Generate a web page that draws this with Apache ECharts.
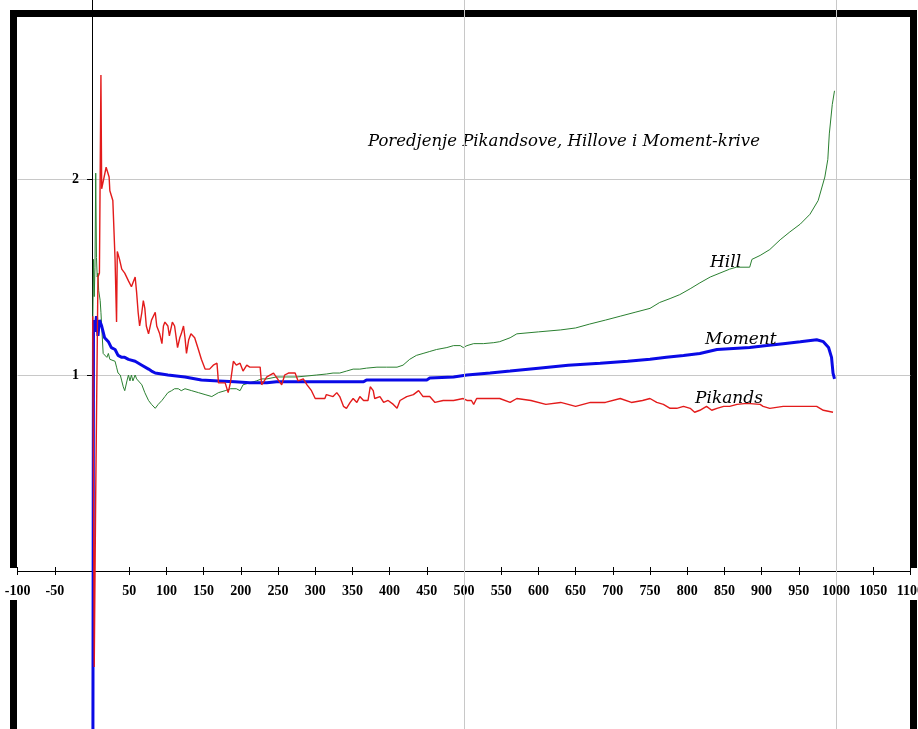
<!DOCTYPE html>
<html><head><meta charset="utf-8">
<script src="https://cdn.jsdelivr.net/npm/echarts@6/dist/echarts.min.js"></script>
<style>html,body{margin:0;padding:0;background:#fff}#c{width:918px;height:729px}</style>
</head><body><div id="c"></div><script>
// k (number of order statistics) vs estimate
const hillData = [[1,1.25],[2,1.59],[3,1.40],[4,1.55],[5,2.03],[6,1.60],[7,1.50],[8,1.52],[9,1.43],[11,1.38],[12,1.32],[13,1.25],[15,1.11],[17,1.12],[20,1.09],[22,1.11],[24,1.08],[26,1.08],[31,1.07],[33,1.04],[35,1.01],[38,1.00],[40,0.97],[42,0.94],[44,0.92],[47,0.97],[49,1.00],[51,0.97],[53,1.00],[55,0.97],[58,1.00],[60,0.98],[62,0.97],[67,0.95],[71,0.91],[76,0.87],[80,0.85],[85,0.83],[89,0.85],[94,0.87],[98,0.89],[102,0.91],[107,0.92],[111,0.93],[116,0.93],[120,0.92],[125,0.93],[134,0.92],[143,0.91],[152,0.90],[161,0.89],[170,0.91],[179,0.92],[186,0.93],[194,0.93],[199,0.92],[203,0.95],[212,0.96],[221,0.97],[228,0.98],[235,0.98],[248,0.99],[262,0.99],[275,0.99],[289,0.995],[302,1.0],[315,1.005],[324,1.01],[333,1.01],[342,1.02],[351,1.03],[360,1.03],[369,1.035],[383,1.04],[396,1.04],[410,1.04],[418,1.05],[427,1.08],[436,1.10],[445,1.11],[454,1.12],[463,1.13],[477,1.14],[486,1.15],[495,1.15],[499,1.14],[504,1.15],[513,1.16],[526,1.16],[540,1.165],[548,1.17],[562,1.19],[571,1.21],[600,1.22],[630,1.23],[650,1.24],[669,1.26],[690,1.28],[710,1.30],[730,1.32],[750,1.34],[763,1.37],[777,1.39],[790,1.41],[804,1.44],[817,1.47],[831,1.50],[844,1.52],[857,1.54],[866,1.55],[884,1.55],[887,1.59],[898,1.61],[911,1.64],[925,1.69],[938,1.73],[952,1.77],[965,1.82],[976,1.89],[985,2.01],[989,2.10],[991,2.23],[995,2.38],[998,2.45]];

const momentData = [[1,-1.5],[2,1.28],[4,1.22],[6,1.30],[8,1.20],[10,1.28],[13,1.25],[17,1.19],[22,1.17],[26,1.14],[31,1.13],[35,1.10],[40,1.09],[44,1.09],[49,1.08],[58,1.07],[67,1.05],[76,1.03],[80,1.02],[85,1.01],[102,1.0],[125,0.99],[147,0.975],[170,0.97],[192,0.965],[212,0.96],[235,0.96],[248,0.965],[280,0.965],[324,0.965],[365,0.965],[369,0.975],[414,0.975],[450,0.975],[454,0.985],[486,0.99],[504,1.0],[535,1.01],[562,1.02],[600,1.035],[640,1.05],[683,1.06],[720,1.07],[750,1.08],[772,1.09],[795,1.10],[817,1.11],[840,1.13],[862,1.135],[884,1.14],[907,1.15],[929,1.16],[952,1.17],[974,1.18],[983,1.17],[990,1.14],[994,1.09],[996,1.01],[998,0.98]];

const pikandsData = [[1,1.3],[3,-0.49],[5,0.4],[8,1.5],[10,1.52],[12,2.53],[13,1.95],[15,1.95],[19,2.06],[23,2.01],[24,1.94],[26,1.93],[28,1.89],[31,1.59],[33,1.27],[34,1.63],[37,1.59],[40,1.54],[44,1.52],[49,1.48],[53,1.45],[58,1.50],[60,1.42],[62,1.32],[64,1.25],[67,1.32],[69,1.38],[71,1.34],[73,1.25],[76,1.21],[80,1.28],[85,1.32],[87,1.25],[91,1.21],[94,1.16],[96,1.25],[98,1.27],[102,1.25],[104,1.20],[108,1.27],[111,1.25],[115,1.14],[118,1.19],[120,1.21],[123,1.25],[125,1.19],[127,1.11],[130,1.18],[133,1.21],[138,1.19],[143,1.13],[147,1.08],[152,1.03],[158,1.03],[163,1.05],[168,1.06],[170,0.96],[179,0.96],[183,0.91],[186,0.96],[190,1.07],[194,1.05],[199,1.06],[203,1.02],[208,1.05],[212,1.04],[226,1.04],[228,0.95],[235,0.99],[244,1.01],[255,0.95],[259,1.0],[264,1.01],[273,1.01],[277,0.97],[284,0.98],[289,0.95],[295,0.92],[300,0.88],[313,0.88],[315,0.90],[324,0.89],[329,0.91],[333,0.89],[338,0.84],[342,0.83],[347,0.86],[351,0.88],[356,0.86],[360,0.89],[365,0.87],[371,0.87],[374,0.94],[378,0.92],[380,0.88],[387,0.89],[392,0.86],[398,0.87],[405,0.85],[410,0.83],[414,0.87],[423,0.89],[432,0.90],[439,0.92],[445,0.89],[454,0.89],[461,0.86],[472,0.87],[486,0.87],[499,0.88],[504,0.87],[510,0.87],[513,0.85],[517,0.88],[535,0.88],[548,0.88],[562,0.86],[571,0.88],[590,0.87],[610,0.85],[630,0.86],[650,0.84],[670,0.86],[690,0.86],[710,0.88],[725,0.86],[740,0.87],[750,0.88],[759,0.86],[768,0.85],[777,0.83],[786,0.83],[795,0.84],[804,0.83],[810,0.81],[817,0.82],[826,0.84],[833,0.82],[840,0.83],[849,0.84],[857,0.84],[867,0.85],[880,0.855],[898,0.85],[902,0.84],[911,0.83],[929,0.84],[947,0.84],[960,0.84],[974,0.84],[983,0.82],[996,0.81]];

const gridXValues = [500, 1000];
const yLabelValues = [1, 2];
const titleText = 'Poredjenje Pikandsove, Hillove i Moment-krive';
const seriesNames = ['Hill', 'Moment', 'Pikands'];

const tickFont = {fontFamily: 'Liberation Serif', fontWeight: 'bold', fontSize: 14, color: '#000'};
const labelFont = 'italic 17px "DejaVu Serif"';

// layout: grid spans x -100..1100 and y -1..3; axes moved to the zero lines
const G = {left: 17.6, right: 7.6, top: -17, bottom: -38};
const W = 918, H = 729;
const gw = W - G.left - G.right, gh = H - G.top - G.bottom;
const yZeroFromBottom = gh * (0 - (-1)) / 4;   // distance from grid bottom to y=0
const xZeroFromLeft = gw * (0 - (-100)) / 1200; // distance from grid left to x=0

const chart = echarts.init(document.getElementById('c'), null, {renderer: 'canvas'});
chart.setOption({
  animation: false,
  backgroundColor: '#fff',
  grid: {left: G.left, right: G.right, top: G.top, bottom: G.bottom, outerBoundsMode: 'none', containLabel: false},
  xAxis: [{
    type: 'value', min: -100, max: 1100, interval: 50, position: 'bottom', offset: -yZeroFromBottom,
    axisLine: {show: true, onZero: false, lineStyle: {color: '#000', width: 1}},
    axisTick: {show: true, length: 4, lineStyle: {color: '#000', width: 1}},
    axisLabel: Object.assign({margin: 13, formatter: v => v === 0 ? '' : String(v)}, tickFont),
    splitLine: {show: false}
  }, {
    type: 'value', position: 'top', min: -100, max: 1100, interval: 50, offset: -(gh - yZeroFromBottom),
    axisLine: {show: false, onZero: false},
    axisTick: {show: true, length: 4, lineStyle: {color: '#000', width: 1}},
    axisLabel: {show: false},
    splitLine: {show: false}
  }],
  yAxis: {
    type: 'value', min: -1, max: 3, interval: 1, position: 'left', offset: -xZeroFromLeft,
    axisLine: {show: true, onZero: false, lineStyle: {color: '#000', width: 1}},
    axisTick: {show: true, length: 5, lineStyle: {color: '#000', width: 1}},
    axisLabel: Object.assign({margin: 13, formatter: v => yLabelValues.indexOf(v) >= 0 ? String(v) : ''}, tickFont),
    splitLine: {show: true, lineStyle: {color: '#c8c8c8', width: 1}}
  },
  graphic: [
    {type: 'rect', z: -2, shape: {x: 10, y: 10, width: 907, height: 7}, style: {fill: '#000'}},
    {type: 'rect', z: -2, shape: {x: 10, y: 10, width: 7, height: 719}, style: {fill: '#000'}},
    {type: 'rect', z: -2, shape: {x: 910, y: 10, width: 7, height: 719}, style: {fill: '#000'}},
    {type: 'rect', z: -1, shape: {x: 8, y: 568, width: 910, height: 32}, style: {fill: '#fff'}},
    {type: 'text', z: 5, x: 368, y: 142, style: {text: titleText, font: 'italic 16.5px "DejaVu Serif"', fill: '#000', textAlign: 'left', textVerticalAlign: 'middle'}},
    {type: 'text', z: 5, x: 710, y: 263, style: {text: seriesNames[0], font: labelFont, fill: '#000', textAlign: 'left', textVerticalAlign: 'middle'}},
    {type: 'text', z: 5, x: 705, y: 340, style: {text: seriesNames[1], font: labelFont, fill: '#000', textAlign: 'left', textVerticalAlign: 'middle'}},
    {type: 'text', z: 5, x: 695, y: 399, style: {text: seriesNames[2], font: labelFont, fill: '#000', textAlign: 'left', textVerticalAlign: 'middle'}}
  ],
  series: [
    {type: 'line', name: 'grid', data: [], z: 1, silent: true,
     markLine: {silent: true, symbol: ['none', 'none'], label: {show: false}, animation: false,
       lineStyle: {color: '#c8c8c8', type: 'solid', width: 1},
       data: gridXValues.map(v => ({xAxis: v}))}},
    {type: 'line', name: seriesNames[0], data: hillData, symbol: 'none', lineStyle: {color: '#2a8030', width: 1}, itemStyle: {color: '#2a8030'}},
    {type: 'line', name: seriesNames[1], data: momentData, symbol: 'none', lineStyle: {color: '#0a0ae6', width: 3}, itemStyle: {color: '#0a0ae6'}},
    {type: 'line', name: seriesNames[2], data: pikandsData, symbol: 'none', lineStyle: {color: '#e31b1b', width: 1.4}, itemStyle: {color: '#e31b1b'}}
  ]
});
</script></body></html>
